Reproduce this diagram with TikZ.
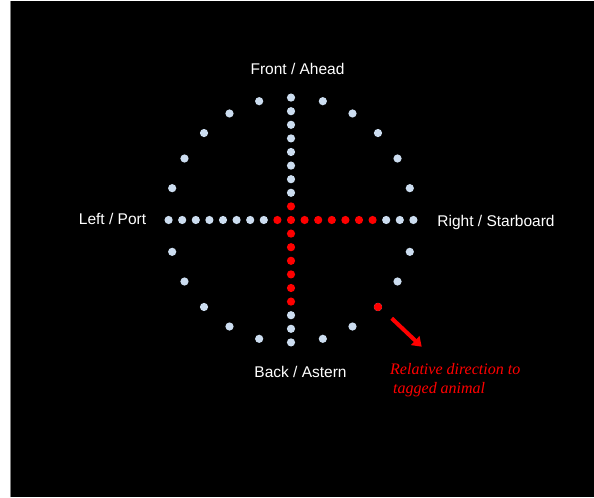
\documentclass[tikz,border=0pt]{standalone}
\usepackage{fontspec}
\setmainfont{Liberation Sans}
\newfontfamily\notefont{Liberation Serif}
\usetikzlibrary{arrows.meta}
\definecolor{dotblue}{RGB}{204,221,240}

\begin{document}
\begin{tikzpicture}[x=1pt, y=1pt,
            dot/.style = {circle, fill=dotblue, inner sep=0pt, minimum size=8.2pt},
            hot/.style = {dot, fill=red},
            side/.style = {text=white, font=\fontsize{15.5}{18}\selectfont}]
            % page
            \fill[white] (-291,-277) rectangle (303,220);
            \fill[black] (-281,-277) rectangle (303,219);
            \draw[gray, line width=0.6pt] (-281,-277) -- (-281,219);

            % ring of bearings
            \foreach \q in {0,90,180,270}
                \foreach \s in {15,30,45,60,75} {
                    \pgfmathtruncatemacro\a{\q+\s}
                    \node[dot] (r\a) at (\a:123) {};
                }
            \node[hot] (target) at (-45:123) {};

            % arms
            \node[hot] (c) at (0,0) {};
            \foreach \i in {1,...,9} {
                \ifnum\i<2 \def\up{hot}\else\def\up{dot}\fi
                \ifnum\i<7 \def\dn{hot}\else\def\dn{dot}\fi
                \node[\up] (n\i) at (0,\i*13.6) {};
                \node[\up] (w\i) at (-\i*13.6,0) {};
                \node[\dn] (e\i) at (\i*13.6,0) {};
                \node[\dn] (s\i) at (0,-\i*13.6) {};
            }

            \node[side] (front) at (6.5,151.5) {Front / Ahead};
            \node[side] (back) at (9.5,-152) {Back / Astern};
            \node[side] (port) at (-178.5,1) {Left / Port};
            \node[side] (starboard) at (205,-2) {Right / Starboard};

            \coordinate (tail) at (100.7,-98.3);
            \coordinate (tip) at (130.7,-126.7);
            \draw[red, line width=4pt, -{Triangle[length=9pt,width=12pt]}] (tail) -- (tip);
            \node[text=red, anchor=west, align=left, inner sep=0pt,
                  font=\notefont\itshape\fontsize{16}{19}\selectfont] (note) at (99,-160.5)
                  {Relative direction to\\\hspace{3pt}tagged animal};
        \end{tikzpicture}
\end{document}
